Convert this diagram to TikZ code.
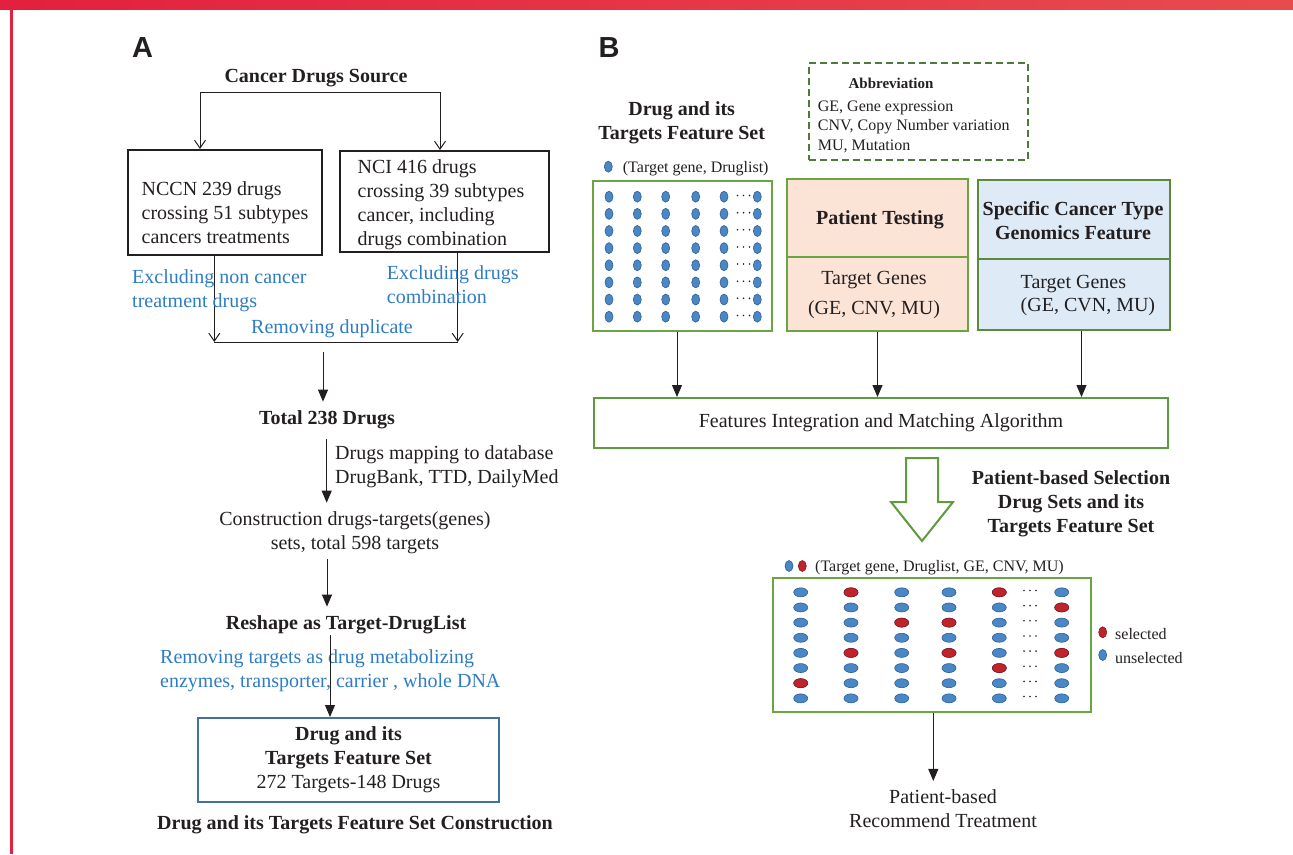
\documentclass[tikz,border=0pt]{standalone}
\usepackage{fontspec}
\setmainfont{Liberation Serif}
\newfontfamily\panelfont{Liberation Sans}
\usetikzlibrary{arrows.meta,positioning}
\definecolor{ink}{HTML}{231F20}
\definecolor{noteblue}{HTML}{2E7CC4}
\definecolor{framered}{HTML}{E3203F}
\definecolor{framered2}{HTML}{E84B4E}
\definecolor{grn}{HTML}{6BA543}
\definecolor{scgrn}{HTML}{5B8A3F}
\definecolor{fiagrn}{HTML}{5D9B3D}
\definecolor{dkgrn}{HTML}{4E7A3A}
\definecolor{steel}{HTML}{41719C}
\definecolor{salmon}{HTML}{FBE3D6}
\definecolor{paleblue}{HTML}{DEEBF7}
\definecolor{dotblue}{HTML}{4A87C6}
\definecolor{dotedge}{HTML}{2F5F93}
\definecolor{dotred}{HTML}{C1232B}
\begin{document}
\begin{tikzpicture}[x=1pt,y=-1pt,
	txt/.style={font=\fontsize{20}{24}\selectfont,text=ink,inner sep=0pt,yshift=-2pt},
	btxt/.style={txt,font=\fontsize{20}{24}\selectfont\bfseries},
	note/.style={txt,text=noteblue},
	small/.style={font=\fontsize{16}{19.5}\selectfont,text=ink,inner sep=0pt,yshift=-2pt},
	panel/.style={font=\panelfont\bfseries\fontsize{29}{29}\selectfont,text=ink,inner sep=0pt},
	arr/.style={line width=1pt,draw=ink,-{Triangle[length=12pt,width=10pt]}},
	openarr/.style={line width=1pt,draw=ink,-{Straight Barb[length=8pt,width=11pt]}},
	grnbox/.style={draw=grn,line width=2pt},
	bdot/.style={fill=dotblue,draw=dotedge,line width=0.6pt},
	rdot/.style={fill=dotred,draw=dotred!70!black,line width=0.6pt}]
	\useasboundingbox (0,0) rectangle (1293,854);
	% Red frame of the page
	\shade[left color=framered,right color=framered2] (0,0) rectangle (1293,9.3);
	\fill[framered] (9.5,9.3) rectangle (12.7,854);

	% ---------------- Panel A ----------------
	\node[panel] (labA) at (142.5,48) {A};
	\node[btxt] (src) at (316,76) {Cancer Drugs Source};
	\coordinate (srcL) at (200,92);
	\coordinate (srcR) at (440,92);
	\draw[line width=1pt,draw=ink] (srcL) -- (srcR);
	% Two drug sources
	\node[draw=ink,line width=2pt,minimum width=194pt,minimum height=105pt,inner sep=0pt] (nccn) at (225,202.5) {};
	\node[txt,align=left] (nccnT) at (225,210.4) {NCCN 239 drugs\\crossing 51 subtypes\\cancers treatments};
	\node[draw=ink,line width=2pt,minimum width=209pt,minimum height=101pt,inner sep=0pt] (nci) at (444.5,201.5) {};
	\node[txt,align=left] (nciT) at (441,203) {NCI 416 drugs\\crossing 39 subtypes\\cancer, including\\drugs combination};
	\draw[openarr] (srcL) -- (srcL |- nccn.north);
	\draw[openarr] (srcR) -- (srcR |- nci.north);
	% Filtering and merging
	\coordinate (mL) at (214.3,342);
	\coordinate (mR) at (457.7,342);
	\draw[openarr] (mL |- nccn.south) -- (mL);
	\draw[openarr] (mR |- nci.south) -- (mR);
	\draw[line width=1pt,draw=ink] (mL) -- (mR);
	\node[note,align=left,anchor=west] (exclA) at (132,288.4) {Excluding non cancer\\treatment drugs};
	\node[note,align=left,anchor=west] (exclB) at (386.7,283) {Excluding drugs\\combination};
	\node[note] (dup) at (332,327) {Removing duplicate};
	% Chain down to the feature set
	\node[btxt] (total) at (327,418) {Total 238 Drugs};
	\node[txt,align=left,anchor=west] (map) at (335,465) {Drugs mapping to database\\DrugBank, TTD, DailyMed};
	\node[txt,align=center] (constr) at (355,531) {Construction drugs-targets(genes)\\sets, total 598 targets};
	\node[btxt] (reshape) at (346,623) {Reshape as Target-DrugList};
	\node[note,align=left,anchor=west] (remove) at (160,668.4) {Removing targets as drug metabolizing\\enzymes, transporter, carrier , whole DNA};
	\node[txt,yshift=2pt,draw=steel,line width=2pt,minimum width=301pt,minimum height=84pt,align=center] (feat) at (348.5,760) {\textbf{Drug and its}\\\textbf{Targets Feature Set}\\272 Targets-148 Drugs};
	\node[btxt] (capA) at (355,823) {Drug and its Targets Feature Set Construction};
	\coordinate (c1) at (323,0);
	\coordinate (c2) at (326.7,0);
	\coordinate (c3) at (327,0);
	\coordinate (c4) at (330,0);
	\draw[arr,shorten <=10pt,shorten >=9pt] (c1 |- mL) -- (c1 |- total.north);
	\draw[arr,shorten <=10pt,shorten >=9pt] (c2 |- total.south) -- (c2 |- constr.north);
	\draw[arr,shorten <=5pt,shorten >=9pt] (c3 |- constr.south) -- (c3 |- reshape.north);
	\draw[arr,shorten <=1pt] (c4 |- reshape.south) -- (c4 |- feat.north);

	% ---------------- Panel B ----------------
	\node[panel] (labB) at (609,48) {B};
	% Abbreviation box
	\node[draw=dkgrn,line width=2pt,dash pattern=on 7pt off 4pt,minimum width=219pt,minimum height=97pt] (abbr) at (918.5,111.5) {};
	\node[small,font=\fontsize{15}{18}\selectfont\bfseries] (abbrT) at (891,81) {Abbreviation};
	\node[small,align=left,anchor=west] (abbrL) at (817.7,124.5) {GE, Gene expression\\CNV, Copy Number variation\\MU, Mutation};
	% Drug feature set grid
	\node[btxt,align=center] (dtitle) at (681.7,120.6) {Drug and its\\Targets Feature Set};
	\draw[bdot] (608.3,166.7) ellipse [x radius=4pt,y radius=5.5pt];
	\node[small,anchor=west] (leg1) at (622.7,167) {(Target gene, Druglist)};
	\node[grnbox,minimum width=179pt,minimum height=150pt] (dotbox) at (682.5,256) {};
	\foreach \x in {609,637.3,665.7,695.7,724,757.3}
		\foreach \r in {0,...,7}
			\draw[bdot] (\x,{196.7+17.14*\r}) ellipse [x radius=4pt,y radius=5.5pt];
	\foreach \r in {0,...,7}
		\foreach \d in {737.5,743.5,749.5}
			\fill[ink] (\d,{195.5+17.14*\r}) circle (0.9pt);
	% Patient testing
	\node[grnbox,fill=salmon,minimum width=181pt,minimum height=152pt] (pt) at (877.5,255) {};
	\coordinate (ptcut) at (0,256.7);
	\draw[draw=grn,line width=2pt] (ptcut -| pt.west) -- (ptcut -| pt.east);
	\node[btxt] (ptT) at (880,217.7) {Patient Testing};
	\node[txt,align=center,font=\fontsize{20}{29.4}\selectfont] (ptG) at (874,293) {Target Genes\\(GE, CNV, MU)};
	% Cancer type genomics
	\node[draw=scgrn,line width=2pt,fill=paleblue,minimum width=192pt,minimum height=150pt] (sc) at (1074,255) {};
	\coordinate (sccut) at (0,259);
	\draw[draw=scgrn,line width=2pt] (sccut -| sc.west) -- (sccut -| sc.east);
	\node[btxt,align=center] (scT) at (1073,218.5) {Specific Cancer Type\\Genomics Feature};
	\node[txt,align=left,anchor=west,font=\fontsize{20}{23.3}\selectfont] (scG) at (1020.5,293.4) {Target Genes\\(GE, CVN, MU)};
	% Integration
	\node[txt,yshift=2pt,draw=fiagrn,line width=2pt,minimum width=574pt,minimum height=50pt] (fia) at (881,423) {Features Integration and Matching Algorithm};
	\coordinate (bA) at (677,0);
	\coordinate (bC) at (1081.5,0);
	\draw[arr] (bA |- dotbox.south) -- (bA |- fia.north);
	\draw[arr] (pt.south) -- (pt.south |- fia.north);
	\draw[arr] (bC |- sc.south) -- (bC |- fia.north);
	% Hollow arrow to the selection
	\draw[draw=fiagrn,line width=2pt,fill=white] (906,458) -- (938,458) -- (938,502) -- (953,502) -- (922,541) -- (891,502) -- (906,502) -- cycle;
	\node[btxt,align=center] (psel) at (1071,502) {Patient-based Selection\\Drug Sets and its\\Targets Feature Set};
	% Selected grid
	\draw[bdot] (789,566) ellipse [x radius=4pt,y radius=5.5pt];
	\draw[rdot] (802.3,566) ellipse [x radius=4pt,y radius=5.5pt];
	\node[small,anchor=west] (leg2) at (815,566) {(Target gene, Druglist, GE, CNV, MU)};
	\node[grnbox,minimum width=318pt,minimum height=134pt] (sel) at (932,645) {};
	\foreach \x in {800.7,851,901.7,949,999.3,1061.7}
		\foreach \r in {0,...,7}
			\draw[bdot] (\x,{592.3+15.15*\r}) ellipse [x radius=7pt,y radius=4.5pt];
	\foreach \x/\r in {851/0,999.3/0,1061.7/1,901.7/2,949/2,851/4,949/4,1061.7/4,999.3/5,800.7/6}
		\draw[rdot] (\x,{592.3+15.15*\r}) ellipse [x radius=7pt,y radius=4.5pt];
	\foreach \r in {0,...,7}
		\foreach \d in {1024,1030,1036}
			\fill[ink] (\d,{590.5+15.15*\r}) circle (0.9pt);
	\draw[rdot] (1102.7,632.3) ellipse [x radius=4pt,y radius=5.5pt];
	\node[small,anchor=west] (selL) at (1115,632) {selected};
	\draw[bdot] (1102.7,655) ellipse [x radius=4pt,y radius=5.5pt];
	\node[small,anchor=west] (unselL) at (1115,656) {unselected};
	% Recommendation
	\node[txt,align=center] (rec) at (943,806.7) {Patient-based\\Recommend Treatment};
	\coordinate (bD) at (933.3,0);
	\draw[arr,shorten >=8.5pt] (bD |- sel.south) -- (bD |- rec.north);
\end{tikzpicture}
\end{document}
